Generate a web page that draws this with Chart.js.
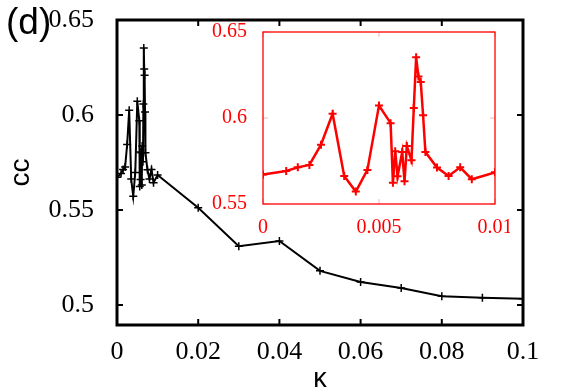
<!DOCTYPE html>
<html>
<head>
<meta charset="utf-8">
<script src="https://cdn.jsdelivr.net/npm/chart.js@4/dist/chart.umd.min.js"></script>
<style>
  body { margin: 0; background: #fff; }
  #wrap { position: relative; width: 563px; height: 392px; }
  #mainChart { position: absolute; left: 0; top: 0; }
  #insetChart { position: absolute; left: 200px; top: 20px; }
  #panel { position: absolute; left: 6px; top: 1px; font: 37px "Liberation Sans", Arial, sans-serif; color: #000; }
</style>
</head>
<body>
<div id="wrap">
  <canvas id="mainChart" width="563" height="392"></canvas>
  <canvas id="insetChart" width="310" height="230"></canvas>
  <div id="panel">(d)</div>
</div>
<script>
// values
const kappa = [0, 0.001, 0.0015, 0.002, 0.0025, 0.003, 0.0035, 0.004, 0.0045, 0.005,
  0.0055, 0.0056, 0.0057, 0.0058, 0.006, 0.0061, 0.0062, 0.0064, 0.0065, 0.0066, 0.0067, 0.0068, 0.0069, 0.007,
  0.0075, 0.008, 0.0085, 0.009, 0.01,
  0.02, 0.03, 0.04, 0.05, 0.06, 0.07, 0.08, 0.09, 0.1];
const cc = [0.5672, 0.5692, 0.5713, 0.5727, 0.5845, 0.6025, 0.5663, 0.5572, 0.5698, 0.6072,
  0.597, 0.5624, 0.5806, 0.5661, 0.5802, 0.5632, 0.5837, 0.5754, 0.6058, 0.6353, 0.6242, 0.6209, 0.6016, 0.5802,
  0.5712, 0.5663, 0.5713, 0.5644, 0.5684,
  0.5512, 0.531, 0.5337, 0.518, 0.5121, 0.509, 0.5046, 0.5038, 0.5033];

const mainXTicks = [0, 0.02, 0.04, 0.06, 0.08, 0.1];
const mainYTicks = [0.5, 0.55, 0.6, 0.65];
const insetXTicks = [0, 0.005, 0.01];
const insetYTicks = [0.55, 0.6, 0.65];

const serif = '"Liberation Serif", "Times New Roman", serif';
const sans = '"Liberation Sans", Arial, sans-serif';

// frame box + inward ticks on all four sides
const framePlugin = {
  id: 'frame',
  afterDatasetsDraw(chart, args, opts) {
    const { ctx, chartArea: a, scales: { x, y } } = chart;
    ctx.save();
    ctx.strokeStyle = opts.tickColor;
    ctx.lineWidth = opts.tickWidth;
    ctx.beginPath();
    x.ticks.forEach(t => {
      const px = x.getPixelForValue(t.value);
      ctx.moveTo(px, a.bottom); ctx.lineTo(px, a.bottom - opts.tickLen);
      ctx.moveTo(px, a.top); ctx.lineTo(px, a.top + opts.tickLen);
    });
    y.ticks.forEach(t => {
      const py = y.getPixelForValue(t.value);
      ctx.moveTo(a.left, py); ctx.lineTo(a.left + opts.tickLen, py);
      ctx.moveTo(a.right, py); ctx.lineTo(a.right - opts.tickLen, py);
    });
    ctx.stroke();
    ctx.strokeStyle = opts.color;
    ctx.lineWidth = opts.width;
    ctx.strokeRect(a.left, a.top, a.width, a.height);
    ctx.restore();
  }
};

const fixTicks = list => scale => { scale.ticks = list.map(v => ({ value: v })); };
// fixed axis size, no extra room for overhanging labels
const fitX = h => s => { s.height = h; s.paddingLeft = 0; s.paddingRight = 0; };
const fitY = w => s => { s.width = w; s.paddingTop = 0; s.paddingBottom = 0; };

const points = kappa.map((k, i) => ({ x: k, y: cc[i] }));

new Chart(document.getElementById('mainChart'), {
  type: 'line',
  data: {
    datasets: [{
      data: points,
      borderColor: '#000',
      borderWidth: 2,
      pointStyle: 'cross',
      pointRadius: 4,
      pointBorderWidth: 1.5,
      pointBorderColor: '#000',
      tension: 0
    }]
  },
  options: {
    responsive: false,
    animation: false,
    layout: { padding: { top: 20, right: 40, left: 0, bottom: 0 } },
    plugins: {
      legend: { display: false },
      tooltip: { enabled: false },
      frame: { color: '#000', width: 3, tickColor: '#000', tickWidth: 2, tickLen: 6 }
    },
    scales: {
      x: {
        type: 'linear', min: 0, max: 0.1,
        afterBuildTicks: fixTicks(mainXTicks),
        afterFit: fitX(67),
        grid: { display: false },
        border: { display: false },
        ticks: { color: '#000', font: { family: serif, size: 26 }, padding: 4, maxRotation: 0, callback: v => String(v) },
        title: { display: true, text: 'κ', color: '#000', font: { family: sans, size: 27, lineHeight: 0.9 }, padding: 0 }
      },
      y: {
        type: 'linear', min: 0.4895, max: 0.65,
        afterBuildTicks: fixTicks(mainYTicks),
        afterFit: fitY(117),
        grid: { display: false },
        border: { display: false },
        ticks: { color: '#000', font: { family: serif, size: 26 }, padding: 15, callback: v => String(v) },
        title: { display: true, text: 'cc', color: '#000', font: { family: sans, size: 28 }, padding: 4 }
      }
    }
  },
  plugins: [framePlugin]
});

const insetPoints = points.filter(p => p.x <= 0.01);

new Chart(document.getElementById('insetChart'), {
  type: 'line',
  data: {
    datasets: [{
      data: insetPoints,
      borderColor: '#ff0000',
      borderWidth: 2.5,
      pointStyle: 'cross',
      pointRadius: 4,
      pointBorderWidth: 2,
      pointBorderColor: '#ff0000',
      tension: 0
    }]
  },
  options: {
    responsive: false,
    animation: false,
    layout: { padding: { top: 12, right: 15, left: 0, bottom: 0 } },
    plugins: {
      legend: { display: false },
      tooltip: { enabled: false },
      frame: { color: '#ff0000', width: 1.3, tickColor: '#ffb0b0', tickWidth: 1, tickLen: 5 }
    },
    scales: {
      x: {
        type: 'linear', min: 0, max: 0.01,
        afterBuildTicks: fixTicks(insetXTicks),
        afterFit: fitX(46),
        grid: { display: false },
        border: { display: false },
        ticks: { color: '#ff0000', font: { family: serif, size: 20 }, padding: 4, maxRotation: 0, callback: v => String(v) },
      },
      y: {
        type: 'linear', min: 0.55, max: 0.65,
        afterBuildTicks: fixTicks(insetYTicks),
        afterFit: fitY(63),
        grid: { display: false },
        border: { display: false },
        ticks: { color: '#ff0000', font: { family: serif, size: 20 }, padding: 8, callback: v => String(v) }
      }
    }
  },
  plugins: [framePlugin]
});
</script>
</body>
</html>
